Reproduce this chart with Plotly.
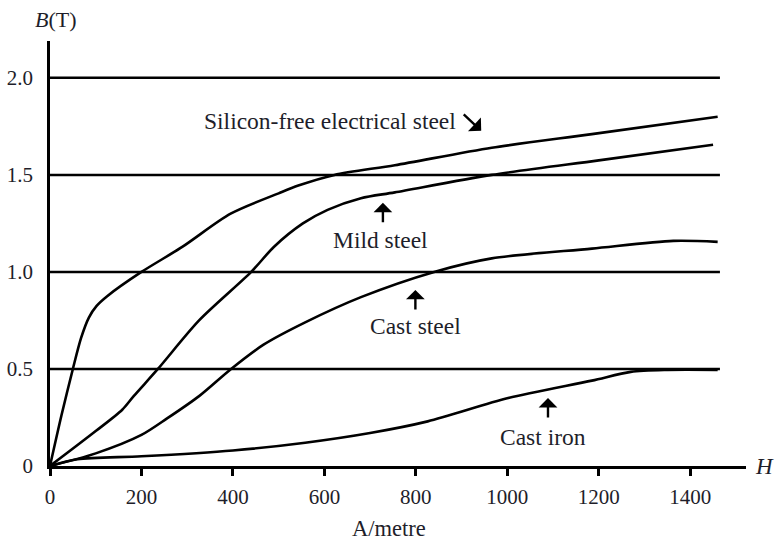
import plotly.graph_objects as go

# Magnetisation (B-H) curves: H in A/metre, B in tesla
silicon_H = [0, 25, 50, 68, 85, 102, 125, 200, 290, 395, 500, 543, 622, 754, 966, 1185, 1460]
silicon_B = [0, 0.26, 0.50, 0.66, 0.765, 0.825, 0.875, 1.00, 1.13, 1.30, 1.405, 1.445, 1.50, 1.55, 1.64, 1.71, 1.80]

mild_H = [0, 100, 158, 183, 236, 326, 440, 490, 553, 607, 680, 754, 966, 1200, 1450]
mild_B = [0, 0.18, 0.29, 0.36, 0.50, 0.75, 1.00, 1.13, 1.25, 1.32, 1.38, 1.41, 1.50, 1.575, 1.655]

cast_steel_H = [0, 100, 200, 256, 326, 396, 467, 558, 680, 840, 966, 1185, 1363, 1460]
cast_steel_B = [0, 0.065, 0.16, 0.245, 0.36, 0.50, 0.625, 0.74, 0.87, 1.00, 1.07, 1.12, 1.16, 1.155]

cast_iron_H = [0, 60, 200, 400, 558, 700, 826, 1002, 1185, 1270, 1350, 1460]
cast_iron_B = [0, 0.035, 0.05, 0.08, 0.12, 0.17, 0.23, 0.35, 0.44, 0.485, 0.495, 0.495]

x_ticks = [0, 200, 400, 600, 800, 1000, 1200, 1400]
y_ticks = [0, 0.5, 1.0, 1.5, 2.0]
y_tick_text = ["0", "0.5", "1.0", "1.5", "2.0"]
grid_levels = [0.5, 1.0, 1.5, 2.0]
grid_end = 1465

FONT = "Liberation Serif, Times New Roman, serif"
TXT = "#1e1e2a"

fig = go.Figure()
for hx, by in [(silicon_H, silicon_B), (mild_H, mild_B),
               (cast_steel_H, cast_steel_B), (cast_iron_H, cast_iron_B)]:
    fig.add_trace(go.Scatter(x=hx, y=by, mode="lines",
                             line=dict(color="black", width=2.6, shape="spline", smoothing=0.8),
                             showlegend=False, hoverinfo="skip"))

# horizontal reference lines at the tick levels
for lv in grid_levels:
    fig.add_shape(type="line", x0=0, x1=grid_end, y0=lv, y1=lv,
                  line=dict(color="black", width=2.5), layer="below")

# curve labels with pointer arrows
labels = [
    ("Silicon-free electrical steel", 613, 1.78),
    ("Mild steel", 722, 1.165),
    ("Cast steel", 799, 0.72),
    ("Cast iron", 1079, 0.15),
]
for text, lx, ly in labels:
    fig.add_annotation(x=lx, y=ly, text=text, showarrow=False,
                       xanchor="center", yanchor="middle",
                       font=dict(family=FONT, size=23.5, color=TXT))

arrows = [
    (943, 1.727, -19, -18),
    (728, 1.356, 0, 21),
    (799, 0.907, 0, 21),
    (1089, 0.35, 0, 21),
]
for tx, ty, axp, ayp in arrows:
    fig.add_annotation(x=tx, y=ty, ax=axp, ay=ayp, text="", showarrow=True,
                       arrowhead=1, arrowsize=1.3, arrowwidth=2.4, arrowcolor="black")

fig.add_annotation(xref="paper", yref="paper", x=0.008, y=1.05, text="<i>B</i>(T)",
                   xanchor="center", yanchor="middle", showarrow=False,
                   font=dict(family=FONT, size=22, color=TXT))
fig.add_annotation(xref="paper", yref="paper", x=1.027, y=0.0, text="<i>H</i>",
                   xanchor="center", yanchor="middle", showarrow=False,
                   font=dict(family=FONT, size=23, color=TXT))
fig.add_annotation(xref="paper", yref="paper", x=0.487, y=-0.148, text="A/metre",
                   xanchor="center", yanchor="middle", showarrow=False,
                   font=dict(family=FONT, size=22.5, color=TXT))

fig.update_xaxes(range=[0, 1522], showline=True, linecolor="black", linewidth=2.5,
                 ticks="outside", ticklen=7, tickwidth=2.5, tickcolor="black",
                 tickvals=x_ticks, showgrid=False, zeroline=False, automargin=False,
                 ticklabelstandoff=3,
                 tickfont=dict(family=FONT, size=21, color=TXT))
fig.update_yaxes(range=[0, 2.19], showline=True, linecolor="black", linewidth=2.5,
                 ticks="", tickvals=y_ticks, ticktext=y_tick_text, ticklabelstandoff=10,
                 showgrid=False, zeroline=False, automargin=False,
                 tickfont=dict(family=FONT, size=21, color=TXT))

fig.update_layout(width=779, height=543, margin=dict(l=50, r=33, t=41, b=77),
                  paper_bgcolor="white", plot_bgcolor="white")

fig.write_html("out.html")
